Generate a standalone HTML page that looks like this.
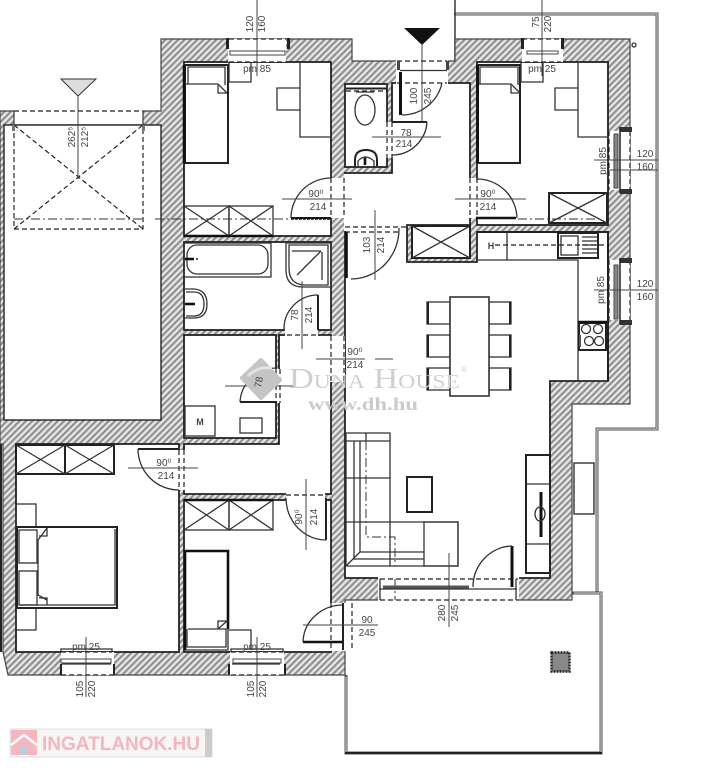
<!DOCTYPE html>
<html><head><meta charset="utf-8"><style>
html,body{margin:0;padding:0;background:#fff}
svg{display:block}
text{font-family:"Liberation Sans",sans-serif;font-size:10px;fill:#444;text-anchor:middle}
.l{fill:none;stroke:#333;stroke-width:1.3}
.t{fill:none;stroke:#222;stroke-width:2}
.k{fill:none;stroke:#111;stroke-width:2.6}
.w{fill:#fff;stroke:#333;stroke-width:1.4}
.d{fill:none;stroke:#222;stroke-width:1.2;stroke-dasharray:5 3}
.dd{fill:none;stroke:#333;stroke-width:1;stroke-dasharray:9 3 2 3}
.dim{fill:none;stroke:#444;stroke-width:1}
</style></head><body>
<svg width="704" height="768" viewBox="0 0 704 768" xmlns="http://www.w3.org/2000/svg">
<defs>
<pattern id="h" width="4.5" height="4.5" patternUnits="userSpaceOnUse" patternTransform="rotate(-45)">
<rect width="4.5" height="4.5" fill="#e6e6e6"/><rect width="4.5" height="2.1" fill="#8f8f8f"/>
</pattern>
</defs>
<rect width="704" height="768" fill="#fff"/>

<!-- terrace outlines -->
<g fill="none" stroke="#555" stroke-width="3">
<path d="M454 14H657V429H597V593"/>
<path d="M572 593H601V753H346V675"/>
</g>
<g fill="none" stroke="#ddd" stroke-width="1">
<path d="M456 14H657V429H597V591"/>
<path d="M574 593H601V753H346V677"/>
</g>
<path d="M455 0V61" fill="none" stroke="#444" stroke-width="1.6"/>
<path d="M345 753H602" stroke="#222" stroke-width="2" fill="none"/>
<rect x="574" y="463" width="20" height="51" class="w"/>
<rect x="551.5" y="652.5" width="18" height="19" fill="#888" stroke="#222" stroke-width="2.4" stroke-dasharray="2 1"/>

<!-- walls -->
<polygon points="0,111 14,111 14,125 143,125 143,111 161,111 161,39 352,39 352,61 455,61 455,39 630,39 630,404 572,404 572,600 345,600 345,675 8,675 3,652 3,444 0,444" fill="url(#h)" stroke="#444" stroke-width="1.2"/>

<!-- void -->
<rect x="4" y="125" width="157" height="295" fill="#fff" stroke="#222" stroke-width="1.4"/>
<rect x="0" y="444" width="2" height="208" fill="#222"/>

<!-- rooms -->
<g fill="#fff" stroke="#222" stroke-width="1.8">
<rect x="184" y="62" width="147" height="174"/>
<rect x="184" y="242" width="147" height="88"/>
<rect x="184" y="335" width="92" height="103"/>
<polygon points="279,335 331,335 331,494 184,494 184,444 279,444"/>
<rect x="16" y="444" width="163" height="208"/>
<rect x="184" y="500" width="147" height="152"/>
<rect x="345" y="84" width="42" height="83"/>
<rect x="477" y="62" width="131" height="163"/>
<polygon points="392,83 470,83 470,225 407,225 407,262 477,262 477,232 608,232 608,381 550,381 550,578 345,578 345,173 392,173"/>
<rect x="412" y="226" width="58" height="32"/>
</g>
<rect x="344" y="174" width="8" height="57" fill="#fff"/>

<!-- door openings white -->
<g fill="#fff">
<rect x="330" y="178" width="15" height="40"/>
<rect x="469" y="178" width="9" height="40"/>
<rect x="396" y="60" width="52" height="24"/>
<rect x="386" y="122" width="7" height="36"/>
<rect x="285" y="329" width="33" height="7"/>
<rect x="275" y="369" width="5" height="34"/>
<rect x="178" y="450" width="7" height="40"/>
<rect x="286" y="493" width="39" height="8"/>
<rect x="330" y="336" width="15" height="46"/>
<rect x="330" y="603" width="23" height="48"/>
<rect x="378" y="577" width="141" height="24"/>
</g>

<!-- left void dashed -->
<path class="d" d="M14 111H143M14 125V229H143V125"/>
<path class="d" d="M14 229L143 125M14 125L143 229"/>
<path d="M143 111V125M14 111V125" stroke="#333" stroke-width="1" fill="none"/>
<rect x="12" y="125" width="3" height="6" fill="#777"/><rect x="142" y="125" width="3" height="6" fill="#777"/>
<path class="dim" d="M78 96V179"/>
<polygon points="61,79 96,79 78,96" fill="#ddd" stroke="#333"/>
<text transform="rotate(-90 72 137)" x="72" y="140">262⁵</text>
<text transform="rotate(-90 85 137)" x="85" y="140">212⁵</text>
<path class="dd" d="M14 219H143M155 219H290"/>

<!-- NW bedroom -->
<rect x="185" y="65" width="43" height="98" class="t"/>
<path class="l" d="M188 84V67H225V85M184 84H218L227 93"/>
<path class="k" d="M184 65V163"/>
<path class="l" d="M218 85V93H227"/>
<path class="l" d="M229 62V82H251V62M300 62V137H331M300 88H277V110H300"/>
<rect x="184" y="206" width="45" height="30" class="l"/><rect x="229" y="206" width="44" height="30" class="l"/>
<path class="l" d="M184 206L229 236M184 236L229 206M229 206L273 236M229 236L273 206"/>
<path class="k" d="M184 236H273" />
<path class="t" d="M291 218H331"/><path class="k" d="M291 218.5H330" stroke-dasharray="3 1"/>
<path class="l" d="M291 218A40 40 0 0 1 331 178"/>
<path class="d" d="M331 178V218M344 178V218"/>
<path class="dim" d="M282 199H352"/>
<text x="316" y="197">90⁰</text><text x="318" y="210">214</text>

<!-- N window 1 -->
<g>
<rect x="228" y="39" width="58" height="23" fill="#fff"/>
<path class="d" d="M229 39H286M229 62H286"/>
<rect x="226" y="38" width="3" height="11" fill="#222"/><rect x="287" y="38" width="3" height="11" fill="#222"/>
<rect x="230" y="51" width="55" height="4" fill="#fff" stroke="#444"/>
<path class="dim" d="M257 0V76"/>
<text transform="rotate(-90 250 24)" x="250" y="27">120</text>
<text transform="rotate(-90 262 24)" x="262" y="27">160</text>
<text x="257" y="72" fill="#444">pm 85</text>
</g>
<!-- N window 2 -->
<g>
<rect x="522" y="39" width="41" height="23" fill="#fff"/>
<path class="d" d="M522 39H563M525 62H561"/>
<rect x="521" y="38" width="3" height="11" fill="#222"/><rect x="561" y="38" width="3" height="11" fill="#222"/>
<rect x="527" y="51" width="31" height="3" fill="#fff" stroke="#444"/>
<path class="dim" d="M542 0V76"/>
<text transform="rotate(-90 536 22)" x="536" y="25">75</text>
<text transform="rotate(-90 548 24)" x="548" y="27">220</text>
<text x="542" y="72">pm 25</text>
</g>
<circle cx="634" cy="45" r="2" class="l"/>

<!-- entry door -->
<path class="d" d="M397 61H447M397 83H447"/>
<rect x="397" y="61" width="3" height="9" fill="#444"/><rect x="446" y="61" width="3" height="9" fill="#444"/>
<path class="l" d="M400 70.5H447"/>
<rect x="399" y="72" width="3" height="43" fill="#111"/>
<path class="l" d="M402 115A41 41 0 0 0 442 83"/>
<path class="dim" d="M422 45V122"/>
<polygon points="404,28 440,28 422,45" fill="#111"/>
<text transform="rotate(-90 414 96)" x="414" y="99">100</text>
<text transform="rotate(-90 428 96)" x="428" y="99">245</text>

<!-- WC -->
<path class="d" d="M346 91H387"/>
<path class="t" d="M346 88.5H387"/>
<ellipse cx="365" cy="110" rx="10" ry="15" class="l"/>
<path class="l" d="M356 92H374"/>
<path class="t" d="M355 166V160Q355 150 366 150Q377 150 377 160V166"/>
<path class="k" d="M365 157V165"/>
<path class="l" d="M358 166V161Q365 153 374 161V166"/>
<path class="t" d="M392 122H427"/>
<path class="l" d="M427 122A35 35 0 0 1 392 155"/>
<path class="d" d="M387 122V158M392 122V158"/>
<path class="dim" d="M372 137H441"/>
<text x="406" y="136">78</text><text x="404" y="147">214</text>

<!-- NE bedroom -->
<rect x="478" y="65" width="42" height="98" class="t"/>
<path class="l" d="M480 84V67H518V85M478 84H511L520 93"/>
<path class="l" d="M511 85V93H520"/>
<path class="k" d="M477.500 65V163"/>
<path class="l" d="M521 62V82H543V62M578 62V137H608M578 88H555V110H578"/>
<rect x="549" y="193" width="58" height="30" class="t" stroke="#333"/>
<path class="l" d="M549 193L607 223M549 223L607 193"/>
<path class="d" d="M470 178V218M477 178V218"/>
<path class="k" d="M476 218H516"/>
<path class="l" d="M476 179A40 40 0 0 1 517 218"/>
<path class="dim" d="M455 199H526"/>
<text x="488" y="197">90⁰</text><text x="488" y="210">214</text>
<path class="dd" d="M518 219H600"/>

<!-- E window 1 -->
<rect x="609" y="131" width="21" height="59" fill="#fff"/>
<path class="d" d="M609 131V190M630 131V190"/>
<rect x="620" y="127" width="12" height="5" fill="#333"/><rect x="620" y="189" width="12" height="5" fill="#333"/>
<path d="M620 127V193" stroke="#222" stroke-width="1.5"/>
<rect x="614" y="134" width="4" height="54" fill="#888" stroke="#444"/>
<path class="dim" d="M594 160H658M608 170H658"/>
<text x="645" y="157">120</text><text x="645" y="170">160</text>
<text transform="rotate(-90 603 161)" x="603" y="164">pm 85</text>
<!-- E window 2 -->
<rect x="609" y="260" width="21" height="60" fill="#fff"/>
<path class="d" d="M609 260V320M630 260V320"/>
<rect x="620" y="258" width="12" height="5" fill="#333"/><rect x="620" y="320" width="12" height="5" fill="#333"/>
<path d="M620 258V324" stroke="#222" stroke-width="1.5"/>
<rect x="614" y="265" width="4" height="54" fill="#888" stroke="#444"/>
<path class="dim" d="M594 290H658"/>
<text x="645" y="287">120</text><text x="645" y="300">160</text>
<text transform="rotate(-90 601 290)" x="601" y="293">pm 85</text>

<!-- closet & small door -->
<rect x="412" y="226" width="58" height="32" class="t"/>
<path class="l" d="M412 226L470 258M412 258L470 226"/>
<path class="d" d="M345 227H407M345 232H400"/>
<path class="k" d="M346.500 232V278"/>
<path class="l" d="M399 228A48 50 0 0 1 351 279"/>
<path class="dim" d="M375 210V280"/>
<text transform="rotate(-90 367 245)" x="367" y="248">103</text>
<text transform="rotate(-90 381 245)" x="381" y="248">214</text>

<!-- kitchen -->
<path class="t" d="M477 232H608V381"/>
<path class="l" d="M507 232V260M477 260H578V381H608"/>
<rect x="558" y="233" width="40" height="25" class="t" stroke="#333"/>
<rect x="561" y="236" width="17" height="19" class="l"/>
<path class="l" d="M582 237H597M582 241H597M582 245H597M582 249H597M582 253H597"/>
<text x="491" y="249" style="font-size:9px;font-weight:bold">H</text>
<path class="d" d="M495 245H608"/>
<rect x="579" y="323" width="27" height="27" class="t" fill="#fff"/>
<path class="k" d="M578 322H607"/>
<circle cx="586" cy="329" r="4.500" class="l"/><circle cx="598" cy="329" r="4.500" class="l"/>
<circle cx="589" cy="341" r="4.500" class="l"/><circle cx="599" cy="341" r="4.500" class="l"/>
<rect x="579" y="335" width="2" height="12" fill="#555"/>

<!-- dining -->
<g class="t">
<rect x="427" y="302" width="23" height="22" class="l"/><rect x="427" y="335" width="23" height="22" class="l"/><rect x="427" y="368" width="23" height="22" class="l"/>
<rect x="489" y="302" width="22" height="22" class="l"/><rect x="489" y="335" width="22" height="22" class="l"/><rect x="489" y="368" width="22" height="22" class="l"/>
</g>
<path class="t" d="M428 302V324M428 335V357M428 368V390M510 302V324M510 335V357M510 368V390"/>
<rect x="450" y="297" width="39" height="99" fill="#fff" stroke="#333" stroke-width="1.6"/>

<!-- bath -->
<rect x="184" y="243" width="87" height="34" class="l"/>
<rect x="187" y="245" width="81" height="29" rx="10" class="l"/>
<path class="k" d="M185 259H194"/><circle cx="197" cy="259" r="1" fill="#222"/>
<path class="l" d="M286 243H331V287H303Q286 287 286 270Z"/>
<path class="l" d="M289 245H328V285H304Q289 284 289 268Z"/>
<path class="l" d="M292 251H321M321 251L297 275M322 252V280"/>
<path class="l" d="M184 289H194Q207 290 207 304Q207 318 194 318H184"/>
<path class="l" d="M186 292H194Q204 292 204 304Q204 316 194 316H186"/>
<path class="k" d="M185 304H195"/>
<path class="t" d="M318 295V330"/>
<path class="l" d="M318 295A34 34 0 0 0 284 330"/>
<path class="dim" d="M302 281V349"/>
<text transform="rotate(-90 295 315)" x="295" y="318">78</text>
<text transform="rotate(-90 309 315)" x="309" y="318">214</text>
<path class="d" d="M279 335H318M331 336V382M344 336V382"/>

<!-- closet room -->
<path class="t" d="M240 402H277"/>
<path class="l" d="M240 402A37 36 0 0 1 277 368"/>
<path class="d" d="M276 369V403M280 369V403"/>
<path class="dim" d="M225 386H248M270 386H294"/>
<rect x="185" y="406" width="30" height="30" class="l"/>
<text x="200" y="425" style="font-size:9px;font-weight:bold">M</text>
<rect x="240" y="418" width="22" height="15" class="l"/>

<!-- central door dims -->
<path class="dim" d="M316 359H365M375 359H393"/>
<text x="355" y="355">90⁰</text><text x="355" y="368">214</text>

<!-- SW bedroom -->
<rect x="16" y="445" width="49" height="29" class="t" stroke="#222"/><rect x="65" y="445" width="49" height="29" class="t"/>
<path class="l" d="M16 445L65 474M16 474L65 445M65 445L114 474M65 474L114 445"/>
<path class="t" d="M138 449H179"/>
<path class="l" d="M138 449A41 41 0 0 0 179 490"/>
<path class="d" d="M179 450V490M184 450V490"/>
<path class="dim" d="M128 468H198"/>
<text x="164" y="466">90⁰</text><text x="166" y="479">214</text>
<rect x="16" y="504" width="20" height="23" class="l"/>
<rect x="16" y="608" width="20" height="22" class="l"/>
<rect x="17" y="527" width="100" height="81" class="t"/>
<path class="l" d="M38 540V595L47 600M38 540L47 528"/>
<rect x="19" y="530" width="18" height="33" class="l"/><rect x="19" y="571" width="18" height="34" class="l"/>
<path class="l" d="M20 605H115V529M47 528V536H39M47 605V598H39"/>

<!-- mid bedroom -->
<rect x="184" y="500" width="45" height="30" class="l"/><rect x="229" y="500" width="44" height="30" class="l"/>
<path class="l" d="M184 500L229 530M184 530L229 500M229 500L273 530M229 530L273 500"/>
<path class="k" d="M184 500H273"/>
<path class="t" d="M326 498V540"/>
<path class="l" d="M286 498A40 42 0 0 0 326 540"/>
<path class="d" d="M286 495H326"/>
<path class="dim" d="M306 479V550"/>
<text transform="rotate(-90 299 517)" x="299" y="520">90⁰</text>
<text transform="rotate(-90 314 517)" x="314" y="520">214</text>
<rect x="185" y="551" width="43" height="99" class="l"/>
<path class="k" d="M185 551H228V629M185 551V650"/>
<path class="l" d="M187 629V647H226V629H188"/>
<path class="l" d="M218 629V621H227L218 629"/>
<path class="l" d="M229 630H251V650"/>

<!-- S windows -->
<g>
<rect x="61" y="652" width="53" height="23" fill="#fff"/>
<path class="d" d="M61 652H112M61 675H114"/>
<path class="l" d="M61 652V649H112V652"/>
<rect x="61" y="659" width="50" height="4" fill="#fff" stroke="#444"/>
<rect x="60" y="664" width="2" height="11" fill="#222"/><rect x="113" y="664" width="2" height="11" fill="#222"/>
<path class="l" d="M62 664H111"/>
<path class="dim" d="M86 637V697"/>
<text x="86" y="650">pm 25</text>
<text transform="rotate(-90 80 689)" x="80" y="692">105</text>
<text transform="rotate(-90 92 689)" x="92" y="692">220</text>
</g>
<g>
<rect x="230" y="652" width="54" height="23" fill="#fff"/>
<path class="d" d="M231 652H283M231 675H284"/>
<path class="l" d="M231 652V649H283V652"/>
<rect x="233" y="659" width="48" height="4" fill="#fff" stroke="#444"/>
<rect x="228" y="664" width="2" height="11" fill="#222"/><rect x="284" y="664" width="2" height="11" fill="#222"/>
<path class="l" d="M232 664H280"/>
<path class="dim" d="M257 637V697"/>
<text x="257" y="650">pm 25</text>
<text transform="rotate(-90 251 689)" x="251" y="692">105</text>
<text transform="rotate(-90 263 689)" x="263" y="692">220</text>
</g>

<!-- terrace door mid -->
<path class="k" d="M303 642H342"/>
<path class="l" d="M303 642A40 38 0 0 1 343 605"/>
<path class="d" d="M331 603V650M352 603V650"/>
<path class="t" d="M343 603V650" stroke="#666"/>
<path class="dim" d="M303 625H378"/>
<text x="367" y="623">90</text><text x="367" y="636">245</text>

<!-- sofa -->
<g class="l" stroke="#333">
<path d="M346 433H390V522M346 433V566H458V522H391"/>
<path d="M346 441H390M366 433V441M346 478H390M346 522H391"/>
<path d="M354 441V559H424M360 441V552H424M346 566L360 552M390 522V566"/>
<rect x="424" y="522" width="34" height="44"/>
</g>
<path class="dd" d="M366 441V537H395V566"/>
<rect x="407" y="477" width="25" height="35" class="t" stroke="#333"/>

<!-- TV unit -->
<rect x="526" y="455" width="24" height="118" class="t" stroke="#333"/>
<path class="l" d="M526 484H550M526 544H550"/>
<path d="M541 492V537" stroke="#111" stroke-width="3"/>
<ellipse cx="540" cy="514" rx="5" ry="7" class="l"/>

<!-- living door -->
<path class="d" d="M380 579H518M380 600H519"/>
<path class="dd" d="M395 579V600"/>
<path d="M383 587H469" stroke="#555" stroke-width="3"/>
<path class="l" d="M379 589H517M380 579V600M516 579V600"/>
<rect x="510.500" y="546" width="3" height="41" fill="#111"/>
<path class="l" d="M473 587A40 41 0 0 1 512 546"/>
<path class="dim" d="M449 553V627"/>
<text transform="rotate(-90 442 613)" x="442" y="616">280</text>
<text transform="rotate(-90 455 613)" x="455" y="616">245</text>

<!-- Duna House watermark -->
<polygon points="261,360 280,380 261,398 242,378" fill="#c4c4c4" stroke="#c4c4c4" stroke-width="4" stroke-linejoin="round"/>
<path d="M248 376Q258 366 272 368" stroke="#e2e2e2" stroke-width="3" fill="none"/>
<text x="258" y="386" style="font-size:10px" transform="rotate(-80 258 382)">78</text>
<text x="289" y="388" textLength="171" lengthAdjust="spacingAndGlyphs" style="font-family:'Liberation Serif',serif;font-size:29px;fill:#d0d0d0;font-variant:small-caps;text-anchor:start">Duna House</text>
<text x="464" y="372" style="font-size:8px;fill:#ccc">®</text>
<text x="308" y="410" textLength="110" lengthAdjust="spacingAndGlyphs" style="font-family:'Liberation Serif',serif;font-size:18px;font-weight:bold;fill:#cbcbcb;text-anchor:start">www.dh.hu</text>

<!-- Ingatlanok -->
<rect x="10" y="729" width="202" height="28" rx="1" fill="#f7f5f5" stroke="#ddd"/>
<rect x="205" y="729" width="7" height="28" fill="#ccc"/>
<rect x="11" y="730" width="26" height="25" fill="#f5b7bd"/>
<path d="M11 745L24 735L37 745" fill="none" stroke="#fff" stroke-width="2.5"/>
<rect x="20" y="745" width="8" height="10" rx="4" fill="#bcd"/>
<text x="42" y="750" textLength="158" lengthAdjust="spacingAndGlyphs" style="font-size:19px;font-weight:bold;fill:#f4b6bd;text-anchor:start">INGATLANOK.HU</text>
</svg>
</body></html>
